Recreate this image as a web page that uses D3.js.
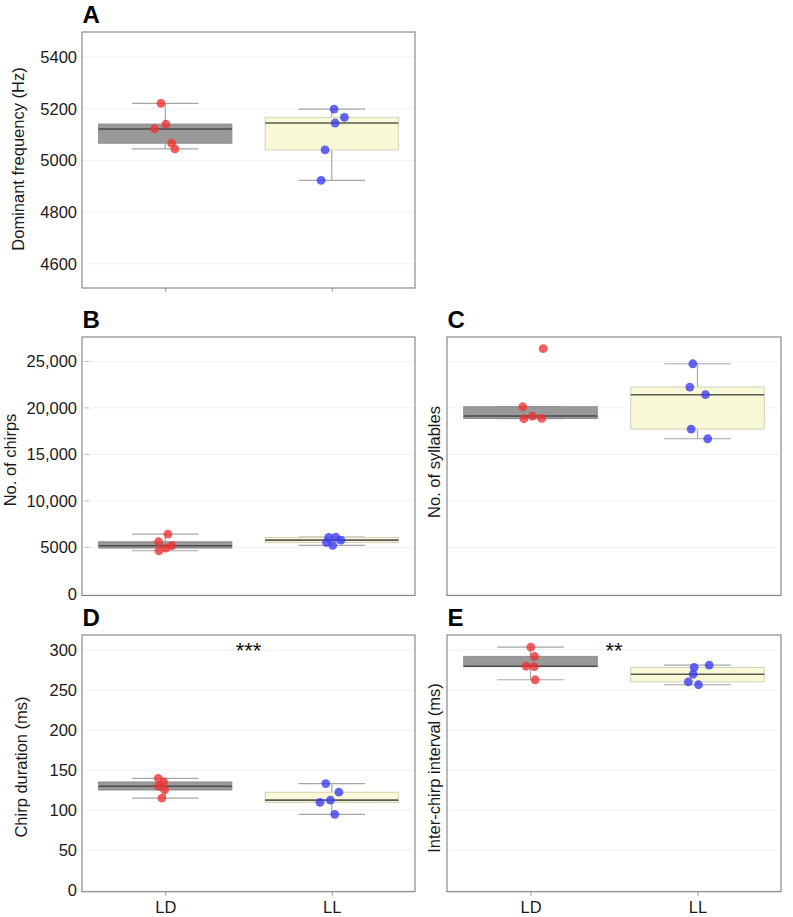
<!DOCTYPE html>
<html><head><meta charset="utf-8">
<script src="https://cdn.jsdelivr.net/npm/d3@7"></script>
<style>body{margin:0;background:#fff} svg{display:block} text{font-family:"Liberation Sans",Arial,sans-serif}</style>
</head><body><svg id="c" width="793" height="917"></svg>
<script>
// ---- data ----
const groups = ["LD", "LL"];
const freqLD = [5221, 5141, 5122, 5067, 5045];
const freqLL = [5199, 5167, 5145, 5041, 4923];
const chirpsLD = [6430, 5600, 5170, 4920, 4630];
const chirpsLL = [6100, 6060, 5780, 5520, 5200];
const syllLD = [26370, 20125, 19124, 18866, 18833];
const syllLL = [24750, 22245, 21420, 17720, 16680];
const durLD = [139.5, 135, 129.6, 125, 114.8];
const durLL = [133, 122.2, 112.3, 109.5, 94.6];
const iciLD = [303.3, 291.8, 279.5, 279, 262.6];
const iciLL = [281, 278, 269.5, 260, 256.4];
// horizontal jitter of points, in category-step units
const jitFreqLD = [-0.026, 0.004, -0.065, 0.038, 0.058];
const jitFreqLL = [0.014, 0.076, 0.020, -0.040, -0.064];
const jitChirpsLD = [0.016, -0.040, 0.040, 0.004, -0.038];
const jitChirpsLL = [0.024, -0.018, 0.055, -0.032, 0.006];
const jitSyllLD = [0.076, -0.046, 0.012, 0.067, -0.040];
const jitSyllLL = [-0.028, -0.046, 0.048, -0.038, 0.061];
const jitDurLD = [-0.042, -0.010, -0.040, -0.004, -0.020];
const jitDurLL = [-0.036, 0.043, -0.008, -0.071, 0.018];
const jitIciLD = [0.002, 0.024, -0.026, 0.022, 0.028];
const jitIciLL = [0.070, -0.020, -0.026, -0.055, 0.006];
// ticks
const freqTicks = [4600, 4800, 5000, 5200, 5400];
const freqTickLabels = ["4600", "4800", "5000", "5200", "5400"];
const countTicks = [0, 5000, 10000, 15000, 20000, 25000];
const countTickLabels = ["0", "5000", "10,000", "15,000", "20,000", "25,000"];
const msTicks = [0, 50, 100, 150, 200, 250, 300];
const msTickLabels = ["0", "50", "100", "150", "200", "250", "300"];
const yTitles = ["Dominant frequency (Hz)", "No. of chirps", "No. of syllables", "Chirp duration (ms)", "Inter-chirp interval (ms)"];
const panelLetters = ["A", "B", "C", "D", "E"];
const sigLabels = ["***", "**"];

// ---- style ----
const fills = {LD: "#999999", LL: "#F9F9D7"};
const strokes = {LD: "#8E8E8E", LL: "#D2D2B6"};
const medianCol = {LD: "#4a4a4a", LL: "#5a5a55"};
const ptCol = {LD: "#F03030", LL: "#3838F2"};

const svg = d3.select("#c");

function boxStats(v) {
  const s = v.slice().sort(d3.ascending);
  const q1 = d3.quantile(s, 0.25), med = d3.quantile(s, 0.5), q3 = d3.quantile(s, 0.75);
  const iqr = q3 - q1;
  const lo = d3.min(s.filter(d => d >= q1 - 1.5 * iqr));
  const hi = d3.max(s.filter(d => d <= q3 + 1.5 * iqr));
  return {q1, med, q3, lo, hi};
}

function panel(o) {
  const g = svg.append("g");
  const x = d3.scalePoint().domain(groups).range([o.x0, o.x1]).padding(0.5);
  const y = d3.scaleLinear().domain(o.domain).range([o.y1, o.y0]);
  const step = x.step();
  // grid
  g.append("g").selectAll("line").data(o.ticks).join("line")
    .attr("x1", o.x0).attr("x2", o.x1)
    .attr("y1", d => y(d)).attr("y2", d => y(d))
    .attr("stroke", "#F1F1F1").attr("stroke-width", 1);
  // y axis labels
  if (o.showY) {
    const ax = d3.axisLeft(y).tickValues(o.ticks).tickFormat((d, i) => o.labels[i]).tickSize(0).tickPadding(5);
    const ag = g.append("g").attr("transform", `translate(${o.x0},0)`).call(ax);
    ag.select(".domain").remove();
    ag.selectAll("text").attr("font-size", 16.5).attr("fill", "#1a1a1a")
      .attr("font-family", '"Liberation Sans",Arial,sans-serif');
    if (o.innerTicks) {
      g.append("g").selectAll("line").data(o.ticks.filter(d => d > 0)).join("line")
        .attr("x1", o.x0 + 3).attr("x2", o.x0 + 7)
        .attr("y1", d => y(d)).attr("y2", d => y(d))
        .attr("stroke", "#BBBBBB").attr("stroke-width", 1);
    }
  }
  // x ticks
  if (o.xTicks) {
    const ax = d3.axisBottom(x).tickSize(4).tickPadding(6);
    const ag = g.append("g").attr("transform", `translate(0,${o.y1})`).call(ax);
    ag.select(".domain").remove();
    ag.selectAll(".tick line").attr("stroke", "#999");
    ag.selectAll("text").attr("font-size", 16.5).attr("fill", "#1a1a1a")
      .attr("font-family", '"Liberation Sans",Arial,sans-serif')
      .style("display", o.xLabels ? null : "none");
  }
  // boxes
  groups.forEach((grp, gi) => {
    const vals = o.data[gi];
    const st = boxStats(vals);
    const cx = x(grp), bw = step * 0.8, cw = step * 0.4;
    const bg = g.append("g");
    bg.append("line").attr("x1", cx).attr("x2", cx).attr("y1", y(st.hi)).attr("y2", y(st.q3))
      .attr("stroke", "#A6A6A6").attr("stroke-width", 1.2);
    bg.append("line").attr("x1", cx).attr("x2", cx).attr("y1", y(st.q1)).attr("y2", y(st.lo))
      .attr("stroke", "#A6A6A6").attr("stroke-width", 1.2);
    bg.append("line").attr("x1", cx - cw / 2).attr("x2", cx + cw / 2).attr("y1", y(st.hi)).attr("y2", y(st.hi))
      .attr("stroke", "#A6A6A6").attr("stroke-width", 1.2);
    bg.append("line").attr("x1", cx - cw / 2).attr("x2", cx + cw / 2).attr("y1", y(st.lo)).attr("y2", y(st.lo))
      .attr("stroke", "#A6A6A6").attr("stroke-width", 1.2);
    bg.append("rect").attr("x", cx - bw / 2).attr("width", bw)
      .attr("y", y(st.q3)).attr("height", Math.max(1, y(st.q1) - y(st.q3)))
      .attr("fill", fills[grp]).attr("stroke", strokes[grp]).attr("stroke-width", 1);
    bg.append("line").attr("x1", cx - bw / 2).attr("x2", cx + bw / 2).attr("y1", y(st.med)).attr("y2", y(st.med))
      .attr("stroke", medianCol[grp]).attr("stroke-width", 1.6);
  });
  // points
  groups.forEach((grp, gi) => {
    g.append("g").selectAll("circle").data(o.data[gi]).join("circle")
      .attr("cx", (d, i) => x(grp) + o.jit[gi][i] * step)
      .attr("cy", d => y(d)).attr("r", 4.4)
      .attr("fill", ptCol[grp]).attr("fill-opacity", 0.78);
  });
  // border
  g.append("rect").attr("x", o.x0).attr("y", o.y0).attr("width", o.x1 - o.x0).attr("height", o.y1 - o.y0)
    .attr("fill", "none").attr("stroke", "#808080").attr("stroke-width", 1.1);
  // titles
  g.append("text").attr("transform", `translate(${o.titleX},${o.titleY}) rotate(-90)`)
    .attr("text-anchor", "middle").attr("font-size", 16.5).attr("fill", "#1a1a1a").text(o.title);
  g.append("text").attr("x", o.x0 + 0.5).attr("y", o.y0 - 9).attr("font-size", 24).attr("font-weight", "bold")
    .attr("fill", "#000").text(o.letter);
  if (o.sig) {
    g.append("text").attr("x", (x(groups[0]) + x(groups[1])) / 2).attr("y", o.y0 + 23)
      .attr("text-anchor", "middle").attr("font-size", 22).attr("fill", "#111").text(o.sig);
  }
}

panel({x0: 82, x1: 415, y0: 32, y1: 288, domain: [4507, 5497], ticks: freqTicks, labels: freqTickLabels,
  showY: true, xTicks: true, xLabels: false, data: [freqLD, freqLL], jit: [jitFreqLD, jitFreqLL],
  title: yTitles[0], titleX: 23.5, titleY: 159, letter: panelLetters[0]});
panel({x0: 82, x1: 415, y0: 337, y1: 595.5, domain: [-183, 27630], ticks: countTicks, labels: countTickLabels,
  showY: true, innerTicks: true, xTicks: false, data: [chirpsLD, chirpsLL], jit: [jitChirpsLD, jitChirpsLL],
  title: yTitles[1], titleX: 16, titleY: 460, letter: panelLetters[1]});
panel({x0: 447, x1: 781, y0: 337, y1: 595.5, domain: [-183, 27630], ticks: countTicks, labels: countTickLabels,
  showY: false, xTicks: false, data: [syllLD, syllLL], jit: [jitSyllLD, jitSyllLL],
  title: yTitles[2], titleX: 440, titleY: 462, letter: panelLetters[2]});
panel({x0: 82, x1: 415, y0: 635, y1: 891.7, domain: [-2, 318.5], ticks: msTicks, labels: msTickLabels,
  showY: true, xTicks: true, xLabels: true, data: [durLD, durLL], jit: [jitDurLD, jitDurLL],
  title: yTitles[3], titleX: 27, titleY: 767, letter: panelLetters[3], sig: sigLabels[0]});
panel({x0: 447, x1: 781, y0: 635, y1: 891.7, domain: [-2, 318.5], ticks: msTicks, labels: msTickLabels,
  showY: false, xTicks: true, xLabels: true, data: [iciLD, iciLL], jit: [jitIciLD, jitIciLL],
  title: yTitles[4], titleX: 440, titleY: 768, letter: panelLetters[4], sig: sigLabels[1]});
</script></body></html>
